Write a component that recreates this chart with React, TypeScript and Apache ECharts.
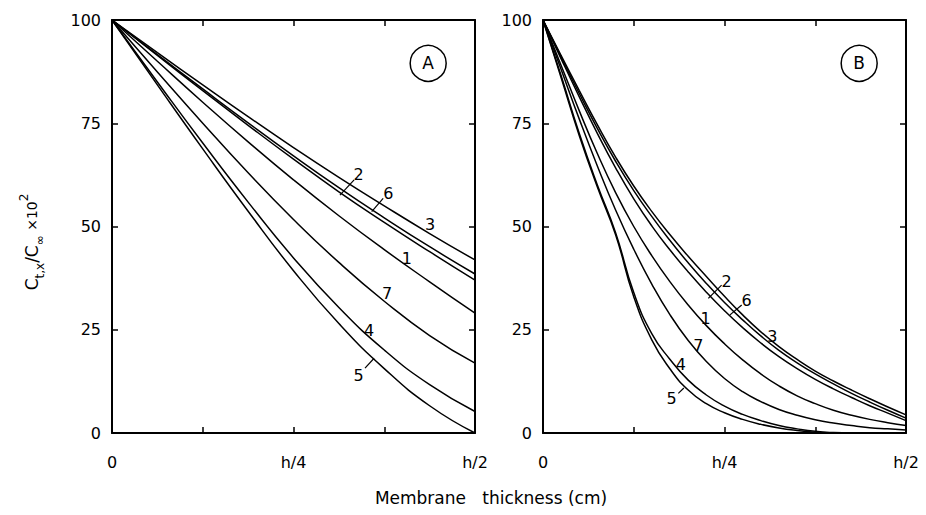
import React, { useEffect, useRef } from "react";
import * as echarts from "echarts";

// x positions (units of h), panel A and panel B
const xA = [0, 0.0625, 0.125, 0.1875, 0.25, 0.3125, 0.375, 0.4375, 0.5];
const xB = [0, 0.025, 0.05, 0.075, 0.1, 0.125, 0.15, 0.175, 0.2, 0.225, 0.25, 0.275, 0.3, 0.325, 0.35, 0.375, 0.4, 0.425, 0.45, 0.475, 0.5];

// Panel A curves (C/C∞ ×10²)
const a1 = [100, 90, 80.1, 70.5, 61.3, 52.6, 44.4, 36.6, 29];
const a2 = [100, 91.4, 82.9, 74.5, 66.3, 58.4, 51, 43.9, 37];
const a3 = [100, 92.1, 84.3, 76.6, 69.1, 61.9, 55, 48.3, 41.9];
const a4 = [100, 85, 70.2, 55.9, 42.4, 30.4, 20.1, 11.7, 5.2];
const a5 = [100, 84.3, 68.8, 53.7, 39.3, 26.5, 15.6, 6.6, 0];
const a6 = [100, 91.6, 83.3, 75.1, 67.1, 59.4, 52.1, 45.1, 38.5];
const a7 = [100, 87.4, 75, 63, 51.7, 41.3, 31.9, 23.6, 16.9];

// Panel B curves
const b1 = [100, 89, 78, 67.6, 58.2, 50, 42.9, 36.6, 31, 26, 21.6, 17.7, 14.3, 11.4, 9.0, 7.1, 5.5, 4.3, 3.3, 2.5, 1.8];
const b2 = [100, 90.6, 81.4, 72.5, 64.2, 56.7, 50.1, 44.3, 39.0, 34.1, 29.6, 25.5, 21.8, 18.5, 15.6, 13.0, 10.7, 8.6, 6.6, 4.8, 3.0];
const b3 = [100, 91.4, 82.9, 74.6, 66.8, 59.8, 53.6, 48.0, 42.8, 37.9, 33.1, 28.6, 24.5, 20.9, 17.8, 15.0, 12.6, 10.4, 8.3, 6.3, 4.4];
const b4 = [100, 86.5, 72.5, 60, 48.5, 34, 24, 17.8, 12.8, 9.2, 6.5, 4.5, 3.0, 1.8, 1.0, 0.4, 0.1, 0, 0, 0, 0];
const b5 = [100, 86, 72, 59.5, 48, 33, 22.5, 15.5, 10.4, 7.1, 4.9, 3.3, 2.1, 1.2, 0.6, 0.2, 0, 0, 0, 0, 0];
const b6 = [100, 91, 82.2, 73.7, 65.8, 58.7, 52.4, 46.6, 41.2, 36.2, 31.6, 27.4, 23.5, 20.0, 17.0, 14.3, 11.9, 9.6, 7.5, 5.5, 3.6];
const b7 = [100, 88, 76, 64.6, 54, 44.5, 36, 28.6, 22.4, 17.3, 13.2, 10.0, 7.6, 5.7, 4.3, 3.2, 2.4, 1.8, 1.3, 1.0, 0.7];

const curveNames = ["1", "2", "3", "4", "5", "6", "7"];
const curvesA = [a1, a2, a3, a4, a5, a6, a7];
const curvesB = [b1, b2, b3, b4, b5, b6, b7];

const xTickLabels: Record<string, string> = { "0": "0", "0.25": "h/4", "0.5": "h/2" };
const panelNames = ["A", "B"];

// curve-number annotations (data coordinates)
const labelsA: [string, number, number][] = [
  ["2", 0.3395, 62.5], ["6", 0.3805, 58.0], ["3", 0.438, 50.4], ["1", 0.406, 42.3],
  ["7", 0.379, 33.8], ["4", 0.354, 24.9], ["5", 0.3395, 14.0],
];
const leadersA: number[][][] = [
  [[0.3335, 61.3], [0.314, 57.6]],
  [[0.3735, 56.8], [0.3577, 53.6]],
  [[0.3485, 15.7], [0.361, 18.1]],
];
const labelsB: [string, number, number][] = [
  ["2", 0.253, 36.6], ["6", 0.2805, 32.2], ["3", 0.316, 23.3], ["1", 0.224, 27.8],
  ["7", 0.214, 21.3], ["4", 0.19, 16.5], ["5", 0.177, 8.4],
];
const leadersB: number[][][] = [
  [[0.246, 35.8], [0.2277, 32.6]],
  [[0.2737, 31.0], [0.2576, 28.6]],
  [[0.1864, 9.6], [0.194, 10.9]],
];
const panelTagPos = [0.4355, 89.5];

const FONT = "DejaVu Sans";

export default function App() {
  const ref = useRef<HTMLDivElement>(null);
  useEffect(() => {
    if (!ref.current) return;
    const chart = echarts.init(ref.current, null, { renderer: "svg" });

    const axisLine = { show: true, onZero: false, lineStyle: { color: "#000", width: 2 } };
    const axisTick = { show: true, inside: true, length: 6, lineStyle: { color: "#000", width: 1.5 } };

    const xAxes: any[] = [];
    const yAxes: any[] = [];
    [0, 1].forEach((g) => {
      ["bottom", "top"].forEach((pos) => {
        xAxes.push({
          type: "value", gridIndex: g, position: pos, min: 0, max: 0.5, interval: 0.125,
          axisLine, axisTick, splitLine: { show: false },
          axisLabel: pos === "bottom"
            ? { show: true, color: "#000", fontFamily: FONT, fontSize: 16, margin: 21,
                formatter: (v: number) => xTickLabels[String(v)] ?? "" }
            : { show: false },
        });
      });
      ["left", "right"].forEach((pos) => {
        yAxes.push({
          type: "value", gridIndex: g, position: pos, min: 0, max: 100, interval: 25,
          axisLine, axisTick, splitLine: { show: false },
          axisLabel: pos === "left"
            ? { show: true, color: "#000", fontFamily: FONT, fontSize: 16, margin: 11 }
            : { show: false },
        });
      });
    });

    const series: any[] = [];
    const panels = [
      { xs: xA, curves: curvesA, labels: labelsA, leaders: leadersA },
      { xs: xB, curves: curvesB, labels: labelsB, leaders: leadersB },
    ];
    panels.forEach((p, g) => {
      p.curves.forEach((ys, i) => {
        const s: any = {
          type: "line", name: `${panelNames[g]}-${curveNames[i]}`,
          xAxisIndex: g * 2, yAxisIndex: g * 2,
          data: p.xs.map((x, k) => [x, ys[k]]),
          showSymbol: false, symbol: "none", smooth: 0.5,
          lineStyle: { color: "#000", width: 1.5 }, silent: true,
        };
        if (i === 0) {
          s.markLine = {
            silent: true, symbol: ["none", "none"], animation: false,
            label: { show: false },
            lineStyle: { color: "#000", width: 1.2, type: "solid" },
            data: p.leaders.map((l) => [{ coord: l[0] }, { coord: l[1] }]),
          };
          s.markPoint = {
            silent: true, animation: false,
            data: [
              ...p.labels.map((l) => ({
                name: l[0], coord: [l[1], l[2]], symbol: "circle", symbolSize: 1,
                itemStyle: { color: "rgba(0,0,0,0)" },
                label: { show: true, position: "inside", formatter: l[0], color: "#000", fontFamily: FONT, fontSize: 16 },
              })),
              {
                name: panelNames[g], coord: panelTagPos, symbol: "circle", symbolSize: 36,
                itemStyle: { color: "#fff", borderColor: "#000", borderWidth: 1.5 },
                label: { show: true, position: "inside", formatter: panelNames[g], color: "#000", fontFamily: FONT, fontSize: 17 },
              },
            ],
          };
        }
        series.push(s);
      });
    });

    chart.setOption({
      animation: false,
      backgroundColor: "#fff",
      grid: [
        { left: 112, top: 20, width: 363, height: 413 },
        { left: 543, top: 20, width: 363, height: 413 },
      ],
      xAxis: xAxes,
      yAxis: yAxes,
      series,
      graphic: [
        {
          type: "text", x: 491, y: 498,
          style: { text: "Membrane   thickness (cm)", fill: "#000", font: `17px ${FONT}`, align: "center", verticalAlign: "middle" },
        },
        {
          type: "text", x: 32, y: 242, rotation: Math.PI / 2,
          style: {
            text: "{m|C}{s|t,x}{m|/C}{s|∞}{n| ×10}{p|2}",
            align: "center", verticalAlign: "middle", fill: "#000",
            rich: {
              m: { fontFamily: FONT, fontSize: 17, lineHeight: 28, verticalAlign: "middle", fill: "#000" },
              n: { fontFamily: FONT, fontSize: 14, lineHeight: 28, verticalAlign: "middle", fill: "#000" },
              s: { fontFamily: FONT, fontSize: 12, lineHeight: 12, verticalAlign: "bottom", fill: "#000" },
              p: { fontFamily: FONT, fontSize: 12, lineHeight: 12, verticalAlign: "top", fill: "#000" },
            },
          },
        },
      ],
    });
    return () => chart.dispose();
  }, []);
  return <div ref={ref} style={{ position: "fixed", left: 0, top: 0, width: 926, height: 515 }} />;
}
